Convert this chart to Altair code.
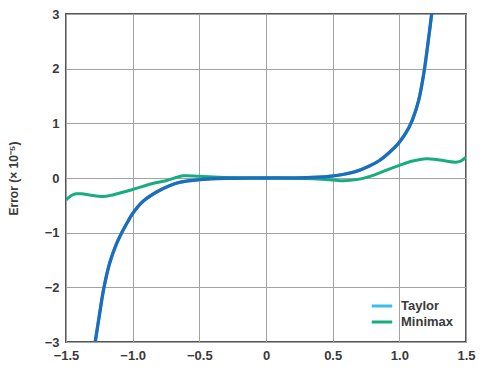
import altair as alt
import pandas as pd

taylor_x = [-1.281, -1.249, -1.219, -1.174, -1.124, -1.082, -1.037, -1.0, -0.924, -0.824, -0.724,
            -0.649, -0.5, -0.3, 0.0, 0.3, 0.476, 0.576, 0.676, 0.776, 0.851, 0.926, 0.989, 1.026,
            1.071, 1.101, 1.146, 1.184, 1.214, 1.245]
taylor_y = [-3.0, -2.5, -2.05, -1.57, -1.22, -1.0, -0.8, -0.65, -0.43, -0.26, -0.14,
            -0.08, -0.03, -0.005, 0.0, 0.005, 0.03, 0.064, 0.12, 0.22, 0.32, 0.47, 0.62, 0.74,
            0.92, 1.08, 1.43, 1.92, 2.45, 3.05]

minimax_x = [-1.5, -1.46, -1.425, -1.38, -1.324, -1.224, -1.15, -1.0, -0.85, -0.75, -0.62, -0.5,
             -0.3, 0.0, 0.3, 0.476, 0.58, 0.68, 0.78, 0.88, 1.0, 1.1, 1.2, 1.3, 1.42, 1.46, 1.5]
minimax_y = [-0.40, -0.32, -0.29, -0.29, -0.31, -0.34, -0.31, -0.21, -0.10, -0.05, 0.04, 0.03,
             0.01, 0.0, -0.01, -0.03, -0.05, -0.03, 0.03, 0.12, 0.23, 0.31, 0.35, 0.33, 0.29,
             0.31, 0.38]

x_ticks = [-1.5, -1.0, -0.5, 0.0, 0.5, 1.0, 1.5]
y_ticks = [-3, -2, -1, 0, 1, 2, 3]
series_names = ["Taylor", "Minimax"]
legend_colors = ["#3dbdec", "#17ad80"]
taylor_line_color = "#1c6dbd"

rows = [{"x": x, "y": y, "series": "Taylor"} for x, y in zip(taylor_x, taylor_y)]
rows += [{"x": x, "y": y, "series": "Minimax"} for x, y in zip(minimax_x, minimax_y)]
df = pd.DataFrame(rows)

FONT = "Liberation Sans"
TXT = "#3a3a3a"

x_enc = alt.X("x:Q",
              scale=alt.Scale(domain=[-1.5, 1.5], nice=False, zero=False),
              axis=alt.Axis(values=x_ticks, title=None, grid=True, ticks=False, domain=False,
                            labelExpr="datum.value == 0 ? '0' : format(datum.value, '.1f')",
                            labelPadding=7, labelFontSize=13, labelFont=FONT,
                            labelFontWeight="bold", labelColor=TXT, labelFlush=False))
y_enc = alt.Y("y:Q",
              scale=alt.Scale(domain=[-3, 3], nice=False, zero=False),
              axis=alt.Axis(values=y_ticks, format="d", title="Error (× 10⁻⁵)", grid=True,
                            ticks=False, domain=False, labelPadding=7, labelFontSize=13,
                            labelFont=FONT, labelFontWeight="bold", labelColor=TXT,
                            labelFlush=False, titleFont=FONT, titleFontSize=12,
                            titleFontWeight="bold", titleColor=TXT, titlePadding=24))

base = alt.Chart(df)

lines = base.mark_line(strokeWidth=3, interpolate="catmull-rom", clip=True).encode(
    x=x_enc,
    y=y_enc,
    color=alt.Color("series:N",
                    scale=alt.Scale(domain=series_names, range=legend_colors),
                    legend=alt.Legend(title=None, orient="none", legendX=304, legendY=284,
                                      symbolType="stroke", symbolStrokeWidth=3,
                                      symbolSize=420, labelFontSize=13, labelFont=FONT,
                                      labelFontWeight="bold", labelColor=TXT,
                                      padding=0, rowPadding=0, clipHeight=16,
                                      labelOffset=7)),
)

taylor_overlay = base.transform_filter(alt.datum.series == "Taylor").mark_line(
    strokeWidth=3.3, interpolate="catmull-rom", clip=True, color=taylor_line_color
).encode(x=x_enc, y=y_enc)

chart = alt.layer(lines, taylor_overlay).properties(
    width=400, height=328,
    autosize=alt.AutoSizeParams(type="none"),
    padding={"left": 58, "top": 6, "right": 10, "bottom": 22},
).configure_view(
    stroke="#555555", strokeWidth=2
).configure_axis(
    gridColor="#a3a3a3", gridWidth=1
)

chart.save("out.html", embed_options={"renderer": "svg", "actions": False})
